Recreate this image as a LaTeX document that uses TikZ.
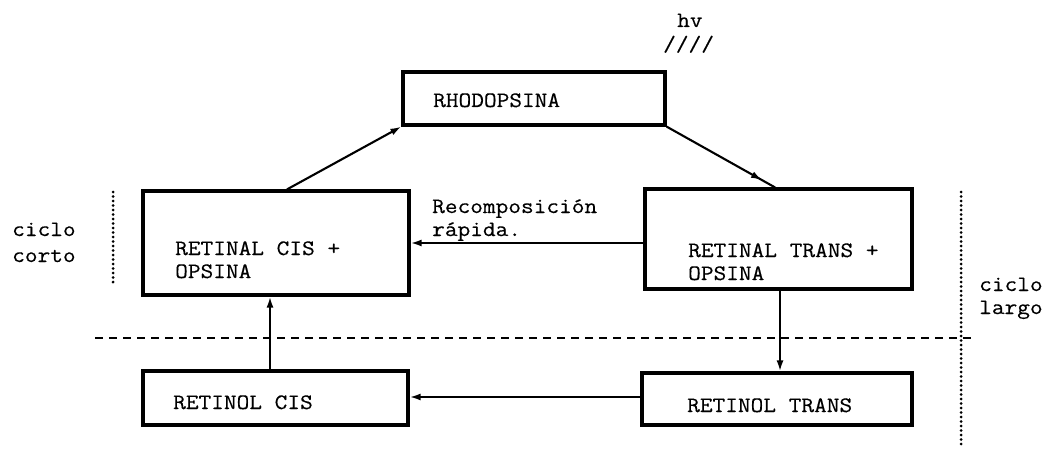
\documentclass[tikz,border=0pt]{standalone}
\usepackage{fontspec}
\setmonofont{Latin Modern Mono}[FakeStretch=1.12, FakeBold=0.4]
\usetikzlibrary{arrows.meta,decorations.markings}
\begin{document}
\begin{tikzpicture}[x=1pt,y=-1pt,
  every node/.style={font=\ttfamily\fontsize{22}{22}\selectfont, inner sep=0pt},
  stage/.style={draw, line width=3.2pt, minimum width=#1},
  lbl/.style={anchor=base west},
  conn/.style={line width=2.1pt, -{Latex[length=11pt,width=7pt]}},
  midtip/.style={line width=2.1pt, decoration={markings,
      mark=at position 0.88 with {\arrow{Latex[length=11pt,width=7pt]}}},
      postaction={decorate}},
  divider/.style={line width=2pt, dash pattern=on 8pt off 6pt},
  cyclemark/.style={line width=3pt, line cap=round, dash pattern=on 0pt off 4.5pt}]
\useasboundingbox (0,0) rectangle (1048,449);

% stages of the visual cycle
\node[stage=262pt, minimum height=53pt]  (rho)    at (534,98.5) {};
\node[stage=266pt, minimum height=104pt] (rcis)   at (276,243) {};
\node[stage=267pt, minimum height=100pt] (rtrans) at (778.5,239) {};
\node[stage=265pt, minimum height=54pt]  (lcis)   at (275.5,398) {};
\node[stage=270pt, minimum height=52pt]  (ltrans) at (777,399) {};

% labels inside the stages
\node[lbl] (trho)  at (433,107) {RHODOPSINA};
\node[lbl] (trc1)  at (175,255) {RETINAL CIS +};
\node[lbl] (trc2)  at (175,278) {OPSINA};
\node[lbl] (trt1)  at (688,257) {RETINAL TRANS +};
\node[lbl] (trt2)  at (688,280) {OPSINA};
\node[lbl] (tlc)   at (173,409) {RETINOL CIS};
\node[lbl] (tlt)   at (687,412) {RETINOL TRANS};

% light input
\node[lbl] (hv)    at (677,27) {hv};
\node[lbl] (light) at (663,51) {////};

% transitions
\draw[conn] ([xshift=11pt]rcis.north) -- (rho.south west);
\draw[midtip] (rho.south east) -- ([xshift=-3.5pt]rtrans.north);
\draw[conn] ([yshift=-4pt]rtrans.west) -- ([yshift=-4pt]rtrans.west -| rcis.east);
\draw[conn] ([xshift=1.5pt]rtrans.south) -- ([xshift=1.5pt]rtrans.south |- ltrans.north);
\draw[conn] ([yshift=2pt]ltrans.west) -- ([yshift=2pt]ltrans.west -| lcis.east);
\draw[conn] ([xshift=-5.5pt]lcis.north) -- ([xshift=-5.5pt]lcis.north |- rcis.south);

\node[lbl] (rec1) at (432,213) {Recomposición};
\node[lbl] (rec2) at (432,236) {rápida.};

% cycle boundaries
\draw[divider] (95,338) -- (975,338);
\draw[cyclemark] (113,192) -- (113,286);
\draw[cyclemark] (961,192) -- (961,446);

\node[lbl] (cc1) at (12,236) {ciclo};
\node[lbl] (cc2) at (12,262) {corto};
\node[lbl] (cl1) at (979,291) {ciclo};
\node[lbl] (cl2) at (979,314) {largo};
\end{tikzpicture}
\end{document}
